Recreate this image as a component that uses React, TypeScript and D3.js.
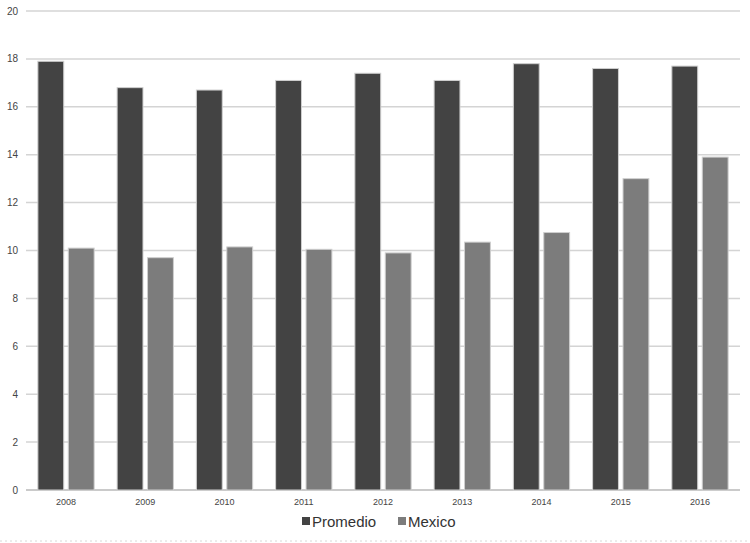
import React from 'react';
import * as d3 from 'd3';

const years = ['2008', '2009', '2010', '2011', '2012', '2013', '2014', '2015', '2016'];
const promedio = [17.9, 16.8, 16.7, 17.1, 17.4, 17.1, 17.8, 17.6, 17.7];
const mexico = [10.1, 9.7, 10.15, 10.05, 9.9, 10.35, 10.75, 13.0, 13.9];
const seriesNames = ['Promedio', 'Mexico'];
const yTicks = [0, 2, 4, 6, 8, 10, 12, 14, 16, 18, 20];

const W = 750;
const H = 543;
const colors = ['#434343', '#7c7c7c'];

export default function App() {
  const left = 26;
  const right = 740;
  const top = 11;
  const bottom = 490;

  const x = d3.scaleBand().domain(years).range([left, right]).paddingInner(0.29).paddingOuter(0.15);
  const sub = d3.scaleBand().domain(seriesNames).range([0, x.bandwidth()]).paddingInner(0.15);
  const y = d3.scaleLinear().domain([0, 20]).range([bottom, top]);

  const rows = years.map((yr, i) => ({ yr, vals: [promedio[i], mexico[i]] }));

  return (
    <svg width={W} height={H} style={{ position: 'absolute', left: 0, top: 0, background: '#fff' }}>
      {yTicks.map(t => (
        <g key={t}>
          <line x1={left} x2={right} y1={y(t)} y2={y(t)} stroke={t === 0 ? '#b8b8b8' : '#d4d4d4'} strokeWidth={1.5} />
          <text x={18} y={y(t)} dy="0.35em" textAnchor="end" fontSize={10} fontFamily="'Liberation Sans', Arial, sans-serif" fill="#444">{t}</text>
        </g>
      ))}
      {rows.map(r => (
        <g key={r.yr} transform={`translate(${x(r.yr)},0)`}>
          {r.vals.map((v, j) => (
            <rect key={j} x={sub(seriesNames[j])} y={y(v)} width={sub.bandwidth()} height={bottom - y(v)}
              fill={colors[j]} stroke="#cfcfcf" strokeWidth={1} />
          ))}
          <text x={x.bandwidth() / 2} y={bottom + 15} textAnchor="middle" fontSize={9} fontFamily="'Liberation Sans', Arial, sans-serif" fill="#444">{r.yr}</text>
        </g>
      ))}
      <g transform="translate(0,522)" fontFamily="'Liberation Sans', Arial, sans-serif" fontSize={15} fill="#333">
        <rect x={302} y={-5} width={8} height={8} fill={colors[0]} />
        <text x={312} y={0} dy="0.35em">{seriesNames[0]}</text>
        <rect x={398} y={-5} width={8} height={8} fill={colors[1]} />
        <text x={408} y={0} dy="0.35em">{seriesNames[1]}</text>
      </g>
      <line x1={0} x2={W} y1={541} y2={541} stroke="#d8d8d8" strokeDasharray="2,3" />
    </svg>
  );
}
